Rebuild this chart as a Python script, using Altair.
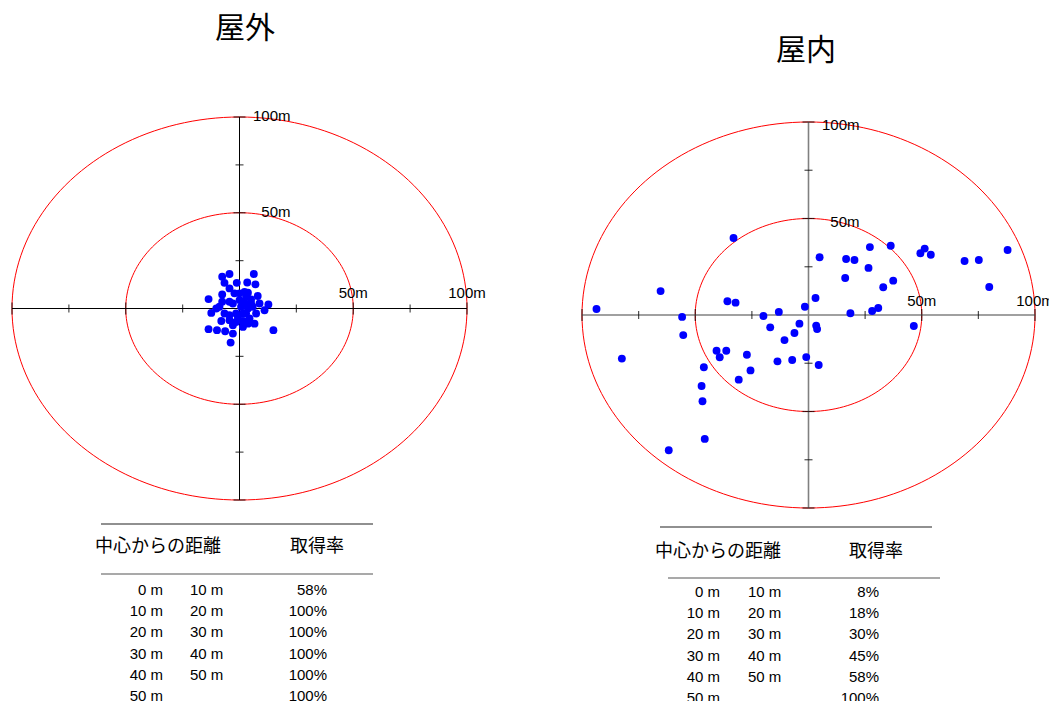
import math
import altair as alt
import pandas as pd

# ---------------- data ----------------
titles = ["屋外", "屋内"]

outdoor_x = [-7.6, -4.4, 6.3, -6.6, -1.2, 3.4, 7.0, -4.4, -2.2, -13.6,
             -7.6, 3.7, 8.0, 5.1, 2.2, -4.4, -7.6, -8.8, 12.7, 11.0,
             -12.4, -10.2, 0.7, 3.7, 7.3, 5.8, -4.4, -1.5, 1.5, -8.0,
             -4.4, -1.5, 1.5, 4.4, 6.6, -13.6, -9.9, -6.3, -2.9, 1.5,
             14.9, -3.9, 0.0, -2.9, 2.9, 8.8, 2.2, 0.0, 5.1, 2.9,
             -0.7, -6.6, 3.7, -2.9]
outdoor_y = [16.6, 18.0, 18.0, 13.4, 13.4, 13.6, 12.6, 10.5, 7.9, 4.9,
             7.3, 8.2, 6.5, 4.7, 3.0, 3.5, 3.5, 0.9, 2.1, -0.9,
             -2.3, 0.0, 0.9, 0.0, -2.6, 0.9, -3.5, -2.6, -2.6, -6.5,
             -6.1, -7.0, -6.5, -5.2, -7.9, -10.8, -11.3, -11.9, -13.1, -9.6,
             -11.3, -17.8, 4.4, 2.6, 6.1, 2.6, 8.7, 7.9, 2.6, -2.6,
             -4.4, -2.6, -7.9, -8.7]

indoor_x = [-93.6, -65.3, -33.1, -55.8, -55.3, -82.4, -35.8, -32.2, -40.6, -36.3,
            -39.2, -27.2, -46.2, -25.6, -30.8, -47.2, -46.8, -45.8, -61.7, -19.9,
            -13.1, -16.9, -10.6, -6.2, -4.0, -13.7, -7.2, -1.0, -1.6, 3.1,
            3.4, 3.8, 4.5, 4.9, 16.6, 20.3, 27.1, 36.3, 26.5, 16.2,
            37.4, 33.0, 18.5, 28.1, 30.8, 46.5, 49.4, 51.3, 54.0, 68.9,
            75.2, 79.8, 87.9]
indoor_y = [3.1, 12.4, 39.9, -1.0, -10.4, -22.6, 7.1, 6.4, -18.5, -18.5,
            -21.9, -20.6, -27.1, -28.7, -33.5, -36.8, -44.7, -64.2, -70.1, -0.5,
            1.6, -6.4, -13.0, -9.3, -4.5, -24.0, -23.3, -21.8, 4.3, 8.8,
            -5.5, -7.3, -25.9, 29.9, 29.0, 28.5, 35.2, 35.9, 24.4, 19.2,
            17.8, 14.4, 0.9, 2.1, 3.6, -5.7, 32.0, 34.4, 31.2, 28.0,
            28.5, 14.5, 33.7]

ring_radii = [50, 100]
major_ticks = [-100, -50, 50, 100]
minor_ticks = [-75, -25, 25, 75]
label_pos = [50, 100]
label_text = ["50m", "100m"]

header_dist = "中心からの距離"
header_rate = "取得率"
dist_from = ["0 m", "10 m", "20 m", "30 m", "40 m", "50 m"]
dist_to = ["10 m", "20 m", "30 m", "40 m", "50 m", ""]
rate_outdoor = ["58%", "100%", "100%", "100%", "100%", "100%"]
rate_indoor = ["8%", "18%", "30%", "45%", "58%", "100%"]

# ---------------- layout (chart pixel coordinates) ----------------
M = 8  # page margin
LAT = "Liberation Sans"
CJK = "Noto Sans CJK JP"

layouts = [
    dict(xr=[12 - M, 467 - M], yr=[500 - M, 117 - M], axis_color="black", axis_w=1,
         title_xy=(245 - M, 29 - M),
         line1=(101 - M, 373 - M, 524 - M), line2=(101 - M, 373 - M, 574 - M),
         head_y=547 - M, head_x=(158 - M, 317 - M),
         rows=(590 - M, 696 - M), cols=(163 - M, 190 - M, 327 - M), xlab_dy=-16,
         ylab_dy=-1),
    dict(xr=[582 - M, 1035 - M], yr=[508 - M, 122 - M], axis_color="#808080", axis_w=1.6,
         title_xy=(806 - M, 51 - M),
         line1=(660 - M, 932 - M, 527 - M), line2=(668 - M, 940 - M, 578 - M),
         head_y=552 - M, head_x=(718 - M, 876 - M),
         rows=(592 - M, 698 - M), cols=(720 - M, 748 - M, 879 - M), xlab_dy=-14,
         ylab_dy=3),
]

ring_rows = []
for r in ring_radii:
    for i in range(0, 362, 2):
        a = math.radians(i)
        ring_rows.append({"ring": r, "i": i, "x": r * math.cos(a), "y": r * math.sin(a)})
ring_df = pd.DataFrame(ring_rows)

axis_df = pd.DataFrame({"x": [-100, 0], "x2": [100, 0], "y": [0, -100], "y2": [0, 100]})
maj_df = pd.DataFrame({"v": major_ticks, "z": [0] * len(major_ticks)})
min_df = pd.DataFrame({"v": minor_ticks, "z": [0] * len(minor_ticks)})
lab_df = pd.DataFrame({"v": label_pos, "z": [0] * len(label_pos), "t": label_text})


def panel(k, px, py, rates):
    L = layouts[k]
    XS = alt.Scale(domain=[-100, 100], range=L["xr"], nice=False, zero=False)
    YS = alt.Scale(domain=[-100, 100], range=L["yr"], nice=False, zero=False)

    def X(f):
        return alt.X(f, scale=XS, axis=None)

    def Y(f):
        return alt.Y(f, scale=YS, axis=None)

    layers = []
    layers.append(alt.Chart(ring_df).mark_line(color="#ff0000", strokeWidth=1).encode(
        x=X("x:Q"), y=Y("y:Q"), detail="ring:N", order="i:Q"))
    layers.append(alt.Chart(axis_df).mark_rule(color=L["axis_color"], strokeWidth=L["axis_w"]).encode(
        x=X("x:Q"), x2="x2:Q", y=Y("y:Q"), y2="y2:Q"))
    for df, sz in ((maj_df, 12), (min_df, 8)):
        layers.append(alt.Chart(df).mark_tick(orient="vertical", size=sz, thickness=1.2, color="black").encode(
            x=X("v:Q"), y=Y("z:Q")))
        layers.append(alt.Chart(df).mark_tick(orient="horizontal", size=sz, thickness=1.2, color="black").encode(
            x=X("z:Q"), y=Y("v:Q")))
    pts = pd.DataFrame({"x": px, "y": py})
    layers.append(alt.Chart(pts).mark_circle(size=62, color="#0000ff", opacity=1).encode(
        x=X("x:Q"), y=Y("y:Q")))
    layers.append(alt.Chart(lab_df).mark_text(font=LAT, fontSize=15, align="center", baseline="middle",
                                              dy=L["xlab_dy"], color="black").encode(
        x=X("v:Q"), y=Y("z:Q"), text="t:N"))
    layers.append(alt.Chart(lab_df).mark_text(font=LAT, fontSize=15, align="right", baseline="middle",
                                              dx=51, dy=L["ylab_dy"], color="black").encode(
        x=X("z:Q"), y=Y("v:Q"), text="t:N"))

    # title
    tdf = pd.DataFrame({"t": [titles[k]]})
    layers.append(alt.Chart(tdf).mark_text(font=CJK, fontSize=30, align="center", baseline="middle",
                                           color="black").encode(
        x=alt.value(L["title_xy"][0]), y=alt.value(L["title_xy"][1]), text="t:N"))

    # table rules
    for (x1, x2, yy), col in ((L["line1"], "#222222"), (L["line2"], "#555555")):
        layers.append(alt.Chart(tdf).mark_rule(color=col, strokeWidth=1.2).encode(
            x=alt.value(x1), x2=alt.value(x2), y=alt.value(yy)))
    # headers
    for i, txt in enumerate([header_dist, header_rate]):
        layers.append(alt.Chart(pd.DataFrame({"t": [txt]})).mark_text(
            font=CJK, fontSize=18, align="center", baseline="middle", color="black").encode(
            x=alt.value(L["head_x"][i]), y=alt.value(L["head_y"]), text="t:N"))
    # rows
    tab = pd.DataFrame({"row": list(range(len(dist_from))), "a": dist_from, "b": dist_to, "r": rates})
    RS = alt.Scale(domain=[0, len(dist_from) - 1], range=list(L["rows"]), nice=False, zero=False)
    for field, align, cx in (("a", "right", L["cols"][0]), ("b", "left", L["cols"][1]), ("r", "right", L["cols"][2])):
        layers.append(alt.Chart(tab).mark_text(font=LAT, fontSize=15, align=align, baseline="middle",
                                               color="black").encode(
            x=alt.value(cx), y=alt.Y("row:Q", scale=RS, axis=None), text=f"{field}:N"))
    return layers


layers = panel(0, outdoor_x, outdoor_y, rate_outdoor) + panel(1, indoor_x, indoor_y, rate_indoor)

chart = alt.layer(*layers).properties(
    width=1041, height=693, padding=0,
    autosize=alt.AutoSizeParams(type="none"),
).resolve_scale(x="independent", y="independent").configure_view(strokeWidth=0)

chart.save("out.html", embed_options={"renderer": "svg", "actions": False})
